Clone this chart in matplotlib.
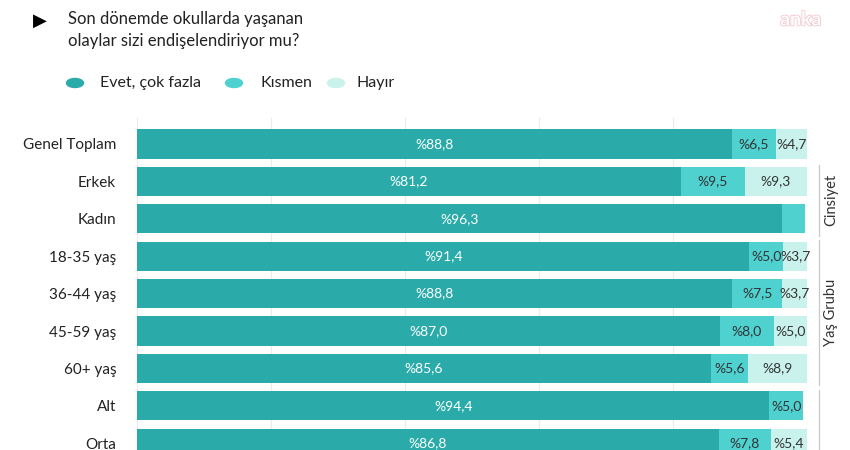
import matplotlib
matplotlib.use('agg')
import matplotlib.pyplot as plt
import matplotlib.transforms as mtransforms
import matplotlib.patheffects as pe
import numpy as np

plt.rcParams['font.family'] = ['Lato', 'DejaVu Sans']

# data
categories = ["Genel Toplam", "Erkek", "Kadın", "18-35 yaş", "36-44 yaş",
              "45-59 yaş", "60+ yaş", "Alt", "Orta"]
evet = [88.8, 81.2, 96.3, 91.4, 88.8, 87.0, 85.6, 94.4, 86.8]
kismen = [6.5, 9.5, 3.4, 5.0, 7.5, 8.0, 5.6, 5.0, 7.8]
hayir = [4.7, 9.3, 0.0, 3.7, 3.7, 5.0, 8.9, 0.0, 5.4]
series_names = ["Evet, çok fazla", "Kısmen", "Hayır"]
groups = [("Cinsiyet", 1, 2), ("Yaş Grubu", 3, 6), ("", 7, 9)]

colors = ["#2aabaa", "#4fd1d0", "#c9f2ec"]
text_colors = ["white", "#333333", "#333333"]

fig = plt.figure(figsize=(8.5, 4.5), dpi=100)
W, H = 850, 450
top_px, bot_px = 118, 450
ax = fig.add_axes([137 / W, 1 - bot_px / H, 670 / W, (bot_px - top_px) / H])

row_px = 37.4
y = np.arange(len(categories))
ax.set_ylim((bot_px - 144) / row_px, -(144 - top_px) / row_px)
ax.set_xlim(0, 100)

left = np.zeros(len(categories))
for vals, c, tc in zip([evet, kismen, hayir], colors, text_colors):
    vals = np.array(vals)
    ax.barh(y, vals, left=left, height=0.78, color=c, zorder=2)
    for yi, l, v in zip(y, left, vals):
        if v >= 3.5:
            ax.text(l + v / 2, yi, "%" + "{:.1f}".format(v).replace(".", ","),
                    ha="center", va="center", color=tc, fontsize=10, zorder=3)
    left = left + vals

for gx in range(0, 101, 20):
    ax.axvline(gx, color="#ebebeb", lw=0.8, zorder=1)

ax.set_yticks(y)
ax.set_yticklabels(categories, fontsize=11, color="#222222")
ax.tick_params(axis="y", length=0, pad=15)
ax.set_xticks([])
for s in ax.spines.values():
    s.set_visible(False)

# group brackets on the right
trans = mtransforms.blended_transform_factory(ax.transAxes, ax.transData)
bx = (819 - 137) / 670
for name, a, b in groups:
    ax.plot([bx, bx], [a - 0.43, b + 0.45], color="#c8c8c8", lw=0.9,
            transform=trans, clip_on=False)
    if name:
        ax.text(bx + 0.018, (a + b) / 2, name, rotation=90, ha="center",
                va="center", fontsize=10.5, color="#333333", transform=trans)

# title, legend, logo
fig.text(40 / W, 1 - 21 / H, "\u25b6", fontsize=13, ha="center", va="center",
         color="black", family="DejaVu Sans")
fig.text(68 / W, 1 - 30 / H, "Son dönemde okullarda yaşanan\nolaylar sizi endişelendiriyor mu?",
         fontsize=12, ha="left", va="center", color="#222222", linespacing=1.4)

for (cx, tx), name, c in zip([(75, 100), (234, 260), (336, 357)], series_names, colors):
    fig.patches.append(plt.Circle((cx / W, 1 - 83 / H), 8.5 / W, transform=fig.transFigure,
                                  color=c, figure=fig))
    fig.text(tx / W, 1 - 83 / H, name, fontsize=11.5, ha="left", va="center", color="#222222")

fig.text(801 / W, 1 - 20 / H, "anka", fontsize=14, ha="center", va="center",
         color="white", weight="bold",
         path_effects=[pe.withStroke(linewidth=1.0, foreground="#f2bcc6")])

fig.savefig("out.png", dpi=100)
